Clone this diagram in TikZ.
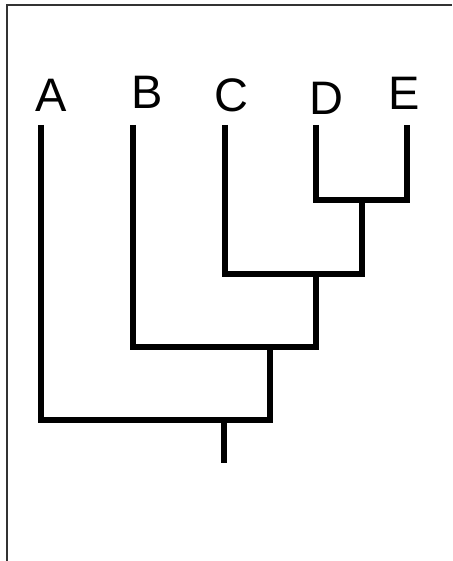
\documentclass[tikz,border=0pt]{standalone}
\usepackage{fontspec}
\setmainfont{Liberation Sans}
\begin{document}
\begin{tikzpicture}[x=1pt,y=-1pt,
    taxon/.style={font=\fontsize{47}{47}\selectfont,inner sep=0pt,anchor=base},
    branch/.style={line width=6pt,line join=miter,draw=black},
    frame/.style={line width=2pt,draw=black!80}
]
\useasboundingbox (0,0) rectangle (452,561);
\draw[frame] (7,561) -- (7,5) -- (452,5);
% taxa
\node[taxon] (A) at (51,112) {A};
\node[taxon] (B) at (147,109) {B};
\node[taxon] (C) at (231,112) {C};
\node[taxon] (D) at (326,115) {D};
\node[taxon] (E) at (404,110) {E};
% tips
\coordinate (tA) at (41,125);
\coordinate (tB) at (133,125);
\coordinate (tC) at (225,125);
\coordinate (tD) at (316,125);
\coordinate (tE) at (407,125);
% internal nodes
\coordinate (de) at (362,200);
\coordinate (cde) at (316,274);
\coordinate (bcde) at (270,347);
\coordinate (root) at (224,420);
\coordinate (base) at (224,463);
\draw[branch] (tD) |- (tE |- de) -- (tE);
\draw[branch] (tC) |- (de |- cde) -- (de);
\draw[branch] (tB) |- (cde |- bcde) -- (cde);
\draw[branch] (tA) |- (bcde |- root) -- (bcde);
\draw[branch] (root) -- (base);
\end{tikzpicture}
\end{document}
